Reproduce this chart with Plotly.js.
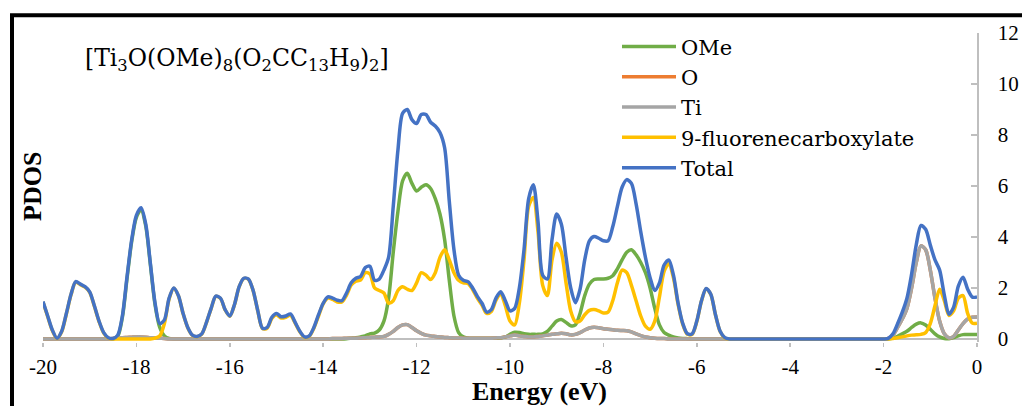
<!DOCTYPE html>
<html>
<head>
<meta charset="utf-8">
<script src="https://cdn.plot.ly/plotly-3.0.1.min.js"></script>
<style>html,body{margin:0;padding:0;background:#fff;}#chart{width:1022px;height:406px;}</style>
</head>
<body>
<div id="chart"></div>
<script>
// Energy grid (eV)
const energy = [
-20.0,-19.9,-19.8,-19.7,-19.6,-19.5,-19.4,-19.3,-19.2,-19.1,
-19.0,-18.9,-18.8,-18.7,-18.6,-18.5,-18.4,-18.3,-18.2,-18.1,
-18.0,-17.9,-17.8,-17.7,-17.6,-17.5,-17.4,-17.3,-17.2,-17.1,
-17.0,-16.9,-16.8,-16.7,-16.6,-16.5,-16.4,-16.3,-16.2,-16.1,
-16.0,-15.9,-15.8,-15.7,-15.6,-15.5,-15.4,-15.3,-15.2,-15.1,
-15.0,-14.9,-14.8,-14.7,-14.6,-14.5,-14.4,-14.3,-14.2,-14.1,
-14.0,-13.9,-13.8,-13.7,-13.6,-13.5,-13.4,-13.3,-13.2,-13.1,
-13.0,-12.9,-12.8,-12.7,-12.6,-12.5,-12.4,-12.3,-12.2,-12.1,
-12.0,-11.9,-11.8,-11.7,-11.6,-11.5,-11.4,-11.3,-11.2,-11.1,
-11.0,-10.9,-10.8,-10.7,-10.6,-10.5,-10.4,-10.3,-10.2,-10.1,
-10.0,-9.9,-9.8,-9.7,-9.6,-9.5,-9.4,-9.3,-9.2,-9.1,
-9.0,-8.9,-8.8,-8.7,-8.6,-8.5,-8.4,-8.3,-8.2,-8.1,
-8.0,-7.9,-7.8,-7.7,-7.6,-7.5,-7.4,-7.3,-7.2,-7.1,
-7.0,-6.9,-6.8,-6.7,-6.6,-6.5,-6.4,-6.3,-6.2,-6.1,
-6.0,-5.9,-5.8,-5.7,-5.6,-5.5,-5.4,-5.3,-5.2,-5.1,
-5.0,-4.9,-4.8,-4.7,-4.6,-4.5,-4.4,-4.3,-4.2,-4.1,
-4.0,-3.9,-3.8,-3.7,-3.6,-3.5,-3.4,-3.3,-3.2,-3.1,
-3.0,-2.9,-2.8,-2.7,-2.6,-2.5,-2.4,-2.3,-2.2,-2.1,
-2.0,-1.9,-1.8,-1.7,-1.6,-1.5,-1.4,-1.3,-1.2,-1.1,
-1.0,-0.9,-0.8,-0.7,-0.6,-0.5,-0.4,-0.3,-0.2,-0.1,
0.0];

const pdosOMe = [
0,0,0,0,0,0,0,0,0,0,
0,0,0,0,0,0,0.10,0.85,2.38,3.83,
4.77,5.07,4.43,2.90,1.33,0.45,0.12,0.02,0,0,
0,0,0,0,0,0,0,0,0,0,
0,0,0,0,0,0,0,0,0,0,
0,0,0,0,0,0,0,0,0,0,
0,0,0,0,0,0.01,0.03,0.05,0.08,0.12,
0.20,0.23,0.35,0.70,1.60,3.40,5.00,6.20,6.50,6.10,
5.80,5.95,6.05,5.90,5.50,4.90,3.90,2.30,0.90,0.25,
0.08,0.04,0.03,0.03,0.03,0.03,0.03,0.03,0.04,0.08,
0.18,0.26,0.25,0.20,0.18,0.18,0.18,0.20,0.30,0.50,
0.70,0.76,0.65,0.52,0.55,1.00,1.70,2.15,2.33,2.35,
2.35,2.38,2.48,2.75,3.10,3.40,3.50,3.30,3.00,2.60,
2.00,1.20,0.55,0.25,0.15,0.08,0.04,0.02,0.01,0,
0,0,0,0,0,0,0,0,0,0,
0,0,0,0,0,0,0,0,0,0,
0,0,0,0,0,0,0,0,0,0,
0,0,0,0,0,0,0,0,0,0,
0,0,0.03,0.10,0.20,0.30,0.45,0.58,0.63,0.55,
0.38,0.20,0.08,0.02,0.01,0.05,0.12,0.17,0.17,0.17,
0.17];

// O is hidden beneath the Ti curve everywhere in the figure
const pdosO = [
0,0,0,0,0,0,0,0,0,0,
0,0,0,0,0,0.02,0.03,0.05,0.06,0.07,
0.08,0.08,0.07,0.05,0.04,0.03,0.02,0,0,0,
0,0,0,0,0,0,0,0,0,0,
0,0,0,0,0,0,0,0,0,0,
0,0,0,0,0,0,0,0,0,0,
0,0,0.02,0.02,0.02,0.03,0.03,0.03,0.04,0.05,
0.06,0.07,0.08,0.10,0.18,0.30,0.45,0.55,0.56,0.45,
0.32,0.22,0.15,0.12,0.10,0.08,0.06,0.05,0.04,0.04,
0.03,0.03,0.03,0.03,0.03,0.03,0.03,0.04,0.05,0.08,
0.12,0.15,0.12,0.10,0.08,0.08,0.10,0.12,0.15,0.18,
0.20,0.22,0.20,0.16,0.18,0.25,0.35,0.43,0.46,0.44,
0.40,0.38,0.36,0.34,0.33,0.32,0.28,0.20,0.13,0.08,
0.05,0.03,0.02,0.02,0,0,0,0,0,0,
0,0,0,0,0,0,0,0,0,0,
0,0,0,0,0,0,0,0,0,0,
0,0,0,0,0,0,0,0,0,0,
0,0,0,0,0,0,0,0,0,0,
0,0.02,0.15,0.45,0.78,1.20,2.00,3.00,3.65,3.50,
2.70,1.60,0.70,0.20,0.04,0.10,0.35,0.60,0.78,0.85,
0.86];

const pdosTi = [
0,0,0,0,0,0,0,0,0,0,
0,0,0,0,0,0.02,0.03,0.05,0.06,0.07,
0.08,0.08,0.07,0.05,0.04,0.03,0.02,0,0,0,
0,0,0,0,0,0,0,0,0,0,
0,0,0,0,0,0,0,0,0,0,
0,0,0,0,0,0,0,0,0,0,
0,0,0.02,0.02,0.02,0.03,0.03,0.03,0.04,0.05,
0.06,0.07,0.08,0.10,0.18,0.30,0.45,0.55,0.56,0.45,
0.32,0.22,0.15,0.12,0.10,0.08,0.06,0.05,0.04,0.04,
0.03,0.03,0.03,0.03,0.03,0.03,0.03,0.04,0.05,0.08,
0.12,0.15,0.12,0.10,0.08,0.08,0.10,0.12,0.15,0.18,
0.20,0.22,0.20,0.16,0.18,0.25,0.35,0.43,0.46,0.44,
0.40,0.38,0.36,0.34,0.33,0.32,0.28,0.20,0.13,0.08,
0.05,0.03,0.02,0.02,0,0,0,0,0,0,
0,0,0,0,0,0,0,0,0,0,
0,0,0,0,0,0,0,0,0,0,
0,0,0,0,0,0,0,0,0,0,
0,0,0,0,0,0,0,0,0,0,
0,0.02,0.15,0.45,0.78,1.20,2.00,3.00,3.65,3.50,
2.70,1.60,0.70,0.20,0.04,0.10,0.35,0.60,0.78,0.85,
0.86];

const pdosFluorene = [
1.45,0.88,0.33,0.02,0.28,0.98,1.73,2.23,2.13,2.03,
1.83,1.28,0.68,0.23,0.03,0,0,0,0,0,
0,0,0,0,0.03,0.12,0.61,1.57,1.99,1.69,
0.99,0.44,0.14,0.09,0.19,0.64,1.19,1.67,1.59,1.14,
0.89,1.34,2.04,2.37,2.34,1.89,1.09,0.41,0.42,0.80,
0.95,0.82,0.85,0.93,0.62,0.28,0.06,0.10,0.42,0.90,
1.38,1.60,1.55,1.45,1.45,1.72,2.12,2.27,2.31,2.60,
2.55,2.00,1.90,1.80,1.40,1.50,1.90,2.05,1.95,1.90,
2.20,2.60,2.50,2.33,2.60,3.20,3.50,3.10,2.60,2.30,
2.20,2.18,1.94,1.60,1.33,1.00,1.08,1.52,1.78,1.30,
0.70,0.55,1.40,3.10,5.20,5.55,4.20,2.10,1.70,3.10,
3.75,3.40,2.20,1.10,0.68,0.70,0.95,1.12,1.15,1.10,
1.02,1.05,1.50,2.20,2.70,2.60,2.10,1.50,0.90,0.50,
0.38,0.70,1.65,2.65,2.95,2.40,1.35,0.57,0.18,0.18,
0.68,1.49,1.97,1.74,0.94,0.29,0.04,0,0,0,
0,0,0,0,0,0,0,0,0,0,
0,0,0,0,0,0,0,0,0,0,
0,0,0,0,0,0,0,0,0,0,
0,0,0.02,0.05,0.08,0.12,0.15,0.16,0.18,0.25,
0.60,1.30,1.95,1.50,0.92,1.10,1.60,1.70,1.00,0.62,
0.62];

const pdosTotal = [
1.47,0.90,0.35,0.03,0.30,1.00,1.75,2.25,2.15,2.05,
1.85,1.30,0.70,0.25,0.05,0.02,0.15,0.90,2.45,3.90,
4.85,5.15,4.50,2.95,1.40,0.60,0.75,1.60,2.00,1.70,
1.00,0.45,0.15,0.10,0.20,0.65,1.20,1.68,1.60,1.15,
0.90,1.35,2.05,2.38,2.35,1.90,1.10,0.42,0.45,0.85,
1.00,0.87,0.90,0.98,0.65,0.30,0.08,0.12,0.45,0.95,
1.40,1.65,1.60,1.52,1.50,1.80,2.20,2.38,2.45,2.80,
2.85,2.30,2.35,2.70,3.20,5.20,7.40,8.85,9.00,8.60,
8.45,8.80,8.80,8.50,8.35,8.10,7.50,5.40,3.50,2.50,
2.30,2.25,2.00,1.67,1.40,1.05,1.15,1.60,1.85,1.50,
1.10,1.20,2.00,3.50,5.50,6.05,4.60,2.50,2.35,3.90,
4.90,4.50,3.20,2.00,1.42,1.95,3.10,3.85,4.02,3.95,
3.85,3.85,4.40,5.20,5.95,6.25,6.10,5.30,4.20,3.20,
2.40,1.90,2.20,2.90,3.10,2.50,1.40,0.60,0.20,0.20,
0.70,1.50,1.98,1.75,0.95,0.30,0.05,0,0,0,
0,0,0,0,0,0,0,0,0,0,
0,0,0,0,0,0,0,0,0,0,
0,0,0,0,0,0,0,0,0,0,
0,0.02,0.20,0.60,1.05,1.60,2.55,3.70,4.45,4.30,
3.68,3.10,2.70,1.72,0.97,1.25,2.07,2.42,1.95,1.64,
1.65];

const seriesNames = ['OMe', 'O', 'Ti', '9-fluorenecarboxylate', 'Total'];
const seriesColors = ['#70AD47', '#ED7D31', '#A5A5A5', '#FFC000', '#4472C4'];
const seriesData = [pdosOMe, pdosO, pdosTi, pdosFluorene, pdosTotal];
const xTicks = [-20, -18, -16, -14, -12, -10, -8, -6, -4, -2, 0];
const yTicks = [0, 2, 4, 6, 8, 10, 12];

const serif = 'Liberation Serif, Times New Roman, serif';
const wideSerif = 'DejaVu Serif, serif';

const traces = seriesNames.map((name, i) => ({
  type: 'scatter', mode: 'lines', name: name,
  x: energy, y: seriesData[i],
  line: {color: seriesColors[i], width: 3.5, shape: 'spline', smoothing: 0.8},
  hoverinfo: 'skip'
}));

// plot area geometry (px) used to place paper-referenced decorations
const W = 1022, H = 406, mL = 43, mR = 45, mT = 33, mB = 64;
const pw = W - mL - mR, ph = H - mT - mB;
const px = v => (v - mL) / pw;
const py = v => (H - mB - v) / ph;

const layout = {
  width: W, height: H,
  margin: {l: mL, r: mR, t: mT, b: mB, pad: 0},
  paper_bgcolor: '#ffffff', plot_bgcolor: '#ffffff',
  font: {family: serif, color: '#000000', size: 21},
  showlegend: true,
  legend: {
    x: px(617), y: py(26.3), xanchor: 'left', yanchor: 'top',
    font: {family: wideSerif, size: 21, color: '#000000'},
    itemwidth: 54, bgcolor: 'rgba(0,0,0,0)', borderwidth: 0,
    traceorder: 'normal', tracegroupgap: 0
  },
  xaxis: {
    range: [-20, 0], tickvals: xTicks, ticktext: xTicks.map(String),
    ticks: 'outside', ticklen: 4, tickwidth: 1.5, tickcolor: '#BFBFBF',
    showline: false, showgrid: false, zeroline: false, ticklabelstandoff: 2,
    tickfont: {family: serif, size: 21, color: '#000000'},
    fixedrange: true
  },
  yaxis: {
    range: [-0.12, 12], side: 'right', tickvals: yTicks, ticktext: yTicks.map(String),
    ticks: 'inside', ticklen: 6, tickwidth: 1.5, tickcolor: '#BFBFBF',
    showline: true, linecolor: '#BFBFBF', linewidth: 1.5,
    zeroline: true, zerolinecolor: '#BFBFBF', zerolinewidth: 1.5,
    showgrid: false, ticklabelstandoff: 15,
    tickfont: {family: serif, size: 21, color: '#000000'},
    fixedrange: true
  },
  shapes: [{
    type: 'rect', xref: 'paper', yref: 'paper',
    x0: px(12), x1: px(1040), y0: py(440), y1: py(15.3),
    line: {color: '#000000', width: 4}, fillcolor: 'rgba(0,0,0,0)', layer: 'above'
  }],
  annotations: [
    {
      xref: 'paper', yref: 'paper', x: px(83), y: py(60), xanchor: 'left', yanchor: 'middle',
      text: '[Ti<sub>3</sub>O(OMe)<sub>8</sub>(O<sub>2</sub>CC<sub>13</sub>H<sub>9</sub>)<sub>2</sub>]',
      showarrow: false, font: {family: wideSerif, size: 23.5, color: '#000000'}
    },
    {
      xref: 'paper', yref: 'paper', x: px(32), y: py(187), xanchor: 'center', yanchor: 'middle',
      text: '<b>PDOS</b>', textangle: -90,
      showarrow: false, font: {family: serif, size: 26, color: '#000000'}
    },
    {
      xref: 'paper', yref: 'paper', x: px(539), y: py(391), xanchor: 'center', yanchor: 'middle',
      text: '<b>Energy (eV)</b>',
      showarrow: false, font: {family: serif, size: 26, color: '#000000'}
    }
  ]
};

Plotly.newPlot('chart', traces, layout, {displayModeBar: false, staticPlot: true});
</script>
</body>
</html>
